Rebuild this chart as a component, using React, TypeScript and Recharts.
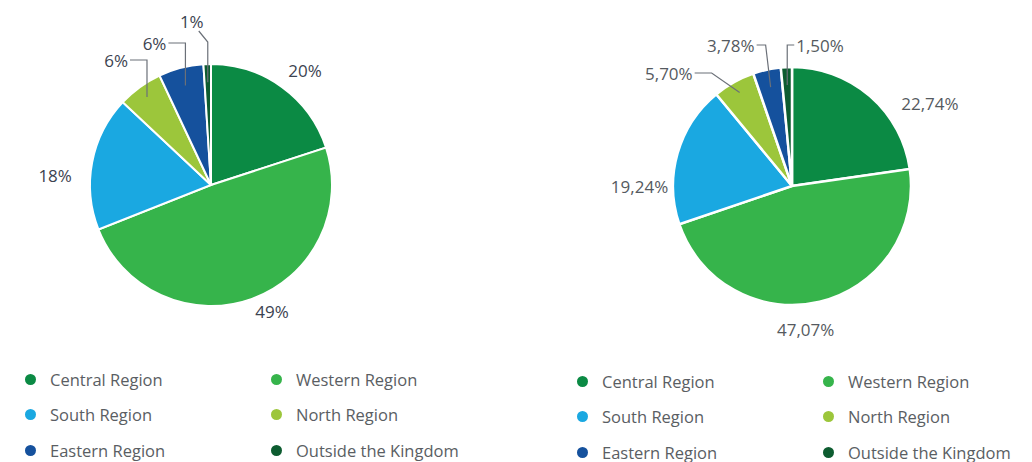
import { PieChart, Pie, Cell } from "recharts";

const categories = [
  "Central Region",
  "Western Region",
  "South Region",
  "North Region",
  "Eastern Region",
  "Outside the Kingdom",
];
const leftValues = [20, 49, 18, 6, 6, 1];
const leftLabels = ["20%", "49%", "18%", "6%", "6%", "1%"];
const rightValues = [22.74, 47.07, 19.24, 5.7, 3.78, 1.5];
const rightLabels = ["22,74%", "47,07%", "19,24%", "5,70%", "3,78%", "1,50%"];

const colors = ["#0b8a44", "#36b44b", "#1aa8e1", "#9cc63b", "#15519d", "#0d5c30"];

const RADIAN = Math.PI / 180;

// label placement per slice (radial = offset from outer edge, leader = elbow line)
type Place =
  | { kind: "radial"; dx: number; dy: number }
  | {
      kind: "leader";
      k: number;
      rise: number;
      slant: number;
      run: [number, number];
      anchor: "start" | "middle" | "end";
      tx: number;
      ty: number;
    };

const leftPlaces: Place[] = [
  { kind: "radial", dx: 23, dy: -17 },
  { kind: "radial", dx: 20, dy: 13 },
  { kind: "radial", dx: -37, dy: 13 },
  { kind: "leader", k: 0.9, rise: 4, slant: 0, run: [-17, 0], anchor: "end", tx: -2, ty: 0 },
  { kind: "leader", k: 0.85, rise: 21, slant: 0, run: [-17, 0], anchor: "end", tx: -2, ty: 0 },
  { kind: "leader", k: 0.85, rise: 22, slant: 0, run: [-9, -11], anchor: "middle", tx: -7, ty: -10 },
];

const rightPlaces: Place[] = [
  { kind: "radial", dx: 60, dy: 7 },
  { kind: "radial", dx: -14, dy: 28 },
  { kind: "radial", dx: -38, dy: 33 },
  { kind: "leader", k: 0.9, rise: -6, slant: -28, run: [-17, 0], anchor: "end", tx: -2, ty: 0 },
  { kind: "leader", k: 0.85, rise: 22, slant: -5, run: [-9, 0], anchor: "end", tx: -2, ty: 0 },
  { kind: "leader", k: 0.85, rise: 22, slant: 0, run: [7, 0], anchor: "start", tx: 2, ty: 0 },
];

function makeLabel(places: Place[], texts: string[], fill: string, weight: number) {
  return (props: any) => {
    const { cx, cy, midAngle, outerRadius, index } = props;
    const p = places[index];
    const cos = Math.cos(-midAngle * RADIAN);
    const sin = Math.sin(-midAngle * RADIAN);
    const textStyle = {
      fontFamily: "'Open Sans', sans-serif",
      fontSize: 17,
      fontWeight: weight,
      fill,
    };
    if (p.kind === "radial") {
      const x = cx + outerRadius * cos + p.dx;
      const y = cy + outerRadius * sin + p.dy;
      return (
        <text x={x} y={y} textAnchor="middle" dominantBaseline="central" style={textStyle}>
          {texts[index]}
        </text>
      );
    }
    const sx = cx + outerRadius * p.k * cos;
    const sy = cy + outerRadius * p.k * sin;
    const top = cy - outerRadius - p.rise;
    const x1 = sx + p.slant;
    const x2 = x1 + p.run[0];
    const y2 = top + p.run[1];
    return (
      <g>
        <polyline
          points={`${sx},${sy} ${x1},${top} ${x2},${y2}`}
          fill="none"
          stroke="#6b7078"
          strokeWidth={1.2}
        />
        <text
          x={x2 + p.tx}
          y={y2 + p.ty}
          textAnchor={p.anchor}
          dominantBaseline="central"
          style={textStyle}
        >
          {texts[index]}
        </text>
      </g>
    );
  };
}

function Legend({ left, top }: { left: number; top: number }) {
  return (
    <div style={{ position: "absolute", left, top, width: 480 }}>
      {categories.map((name, i) => (
        <div
          key={name}
          style={{
            position: "absolute",
            left: (i % 2) * 246,
            top: Math.floor(i / 2) * 35.5 - 11,
            height: 22,
            display: "flex",
            alignItems: "center",
            fontFamily: "'Open Sans', sans-serif",
            fontSize: 16.5,
            color: "#5a5e63",
            whiteSpace: "nowrap",
          }}
        >
          <span
            style={{
              display: "inline-block",
              width: 11,
              height: 11,
              borderRadius: "50%",
              background: colors[i],
              marginLeft: -5.5,
              marginRight: 14.5,
            }}
          />
          {name}
        </div>
      ))}
    </div>
  );
}

const noMargin = { top: 0, right: 0, bottom: 0, left: 0 };

export default function App() {
  const leftData = categories.map((name, i) => ({ name, value: leftValues[i] }));
  const rightData = categories.map((name, i) => ({ name, value: rightValues[i] }));
  return (
    <div
      style={{
        position: "absolute",
        left: 0,
        top: 0,
        width: 1032,
        height: 462,
        background: "#fff",
      }}
    >
      <div style={{ position: "absolute", left: 0, top: 0 }}>
        <PieChart width={516} height={360} margin={noMargin}>
          <Pie
            data={leftData}
            dataKey="value"
            nameKey="name"
            cx={211}
            cy={185}
            outerRadius={121}
            startAngle={90}
            endAngle={-270}
            stroke="#fff"
            strokeWidth={2}
            labelLine={false}
            label={makeLabel(leftPlaces, leftLabels, "#3c4350", 500)}
            isAnimationActive={false}
          >
            {leftData.map((d, i) => (
              <Cell key={d.name} fill={colors[i]} />
            ))}
          </Pie>
        </PieChart>
      </div>
      <div style={{ position: "absolute", left: 516, top: 0 }}>
        <PieChart width={516} height={360} margin={noMargin}>
          <Pie
            data={rightData}
            dataKey="value"
            nameKey="name"
            cx={276}
            cy={186}
            outerRadius={119}
            startAngle={90}
            endAngle={-270}
            stroke="#fff"
            strokeWidth={2.5}
            labelLine={false}
            label={makeLabel(rightPlaces, rightLabels, "#555a60", 400)}
            isAnimationActive={false}
          >
            {rightData.map((d, i) => (
              <Cell key={d.name} fill={colors[i]} />
            ))}
          </Pie>
        </PieChart>
      </div>
      <Legend left={30} top={379} />
      <Legend left={582} top={381} />
    </div>
  );
}
